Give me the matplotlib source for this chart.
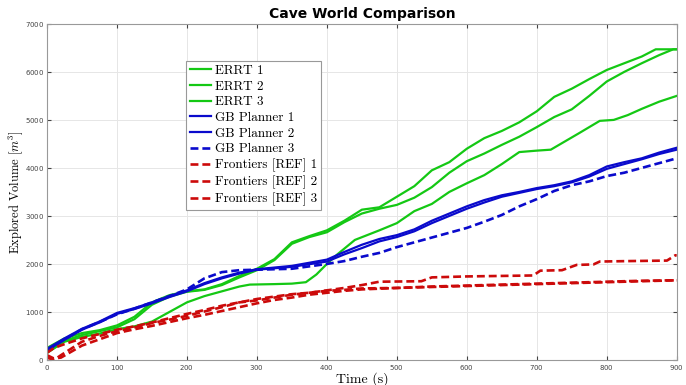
import matplotlib
matplotlib.use('Agg')
import matplotlib.pyplot as plt

plt.rcParams['mathtext.fontset'] = 'cm'
plt.rcParams['axes.formatter.use_mathtext'] = True

# ERRT runs
errt1_t = [0, 25, 50, 75, 100, 125, 150, 175, 200, 225, 250, 275, 300, 325, 350, 375, 400, 425, 450, 475,
           500, 525, 550, 575, 600, 625, 650, 675, 700, 725, 750, 775, 800, 825, 850, 870, 900]
errt1_v = [250, 450, 560, 620, 720, 900, 1200, 1350, 1430, 1470, 1580, 1750, 1900, 2100, 2450, 2580, 2700, 2900, 3130, 3180,
           3400, 3620, 3950, 4120, 4400, 4620, 4770, 4950, 5180, 5480, 5650, 5850, 6040, 6180, 6320, 6470, 6470]
errt2_t = [0, 25, 50, 75, 100, 125, 150, 175, 200, 225, 250, 275, 300, 325, 350, 375, 400, 425, 450, 475,
           500, 525, 550, 575, 600, 625, 650, 675, 700, 725, 750, 775, 800, 825, 850, 875, 895, 900]
errt2_v = [150, 400, 520, 600, 680, 850, 1150, 1320, 1420, 1460, 1560, 1720, 1870, 2080, 2420, 2560, 2660, 2870, 3050, 3150,
           3230, 3380, 3600, 3900, 4140, 4300, 4480, 4650, 4850, 5060, 5220, 5500, 5800, 6000, 6180, 6350, 6470, 6470]
errt3_t = [0, 25, 50, 75, 100, 125, 150, 175, 200, 225, 250, 275, 290, 325, 350, 370, 385, 400, 415, 440, 475,
           500, 525, 550, 575, 600, 625, 650, 675, 700, 720, 740, 760, 790, 810, 830, 850, 875, 900]
errt3_v = [150, 380, 480, 550, 640, 700, 800, 1000, 1200, 1330, 1430, 1530, 1570, 1580, 1590, 1620, 1780, 2000, 2200, 2500, 2700,
           2850, 3100, 3250, 3500, 3680, 3850, 4080, 4330, 4360, 4380, 4550, 4720, 4980, 5000, 5100, 5230, 5380, 5500]

# GB Planner runs
gb_t = [0, 25, 50, 75, 100, 125, 150, 175, 200, 225, 250, 275, 300, 350, 400, 425, 450, 475,
        500, 525, 550, 575, 600, 625, 650, 675, 700, 725, 750, 775, 800, 825, 850, 875, 900]
gb1_v = [230, 450, 650, 800, 980, 1080, 1200, 1330, 1450, 1600, 1720, 1820, 1890, 1960, 2090, 2250, 2400, 2520,
         2600, 2720, 2900, 3050, 3200, 3330, 3430, 3500, 3580, 3640, 3720, 3850, 4030, 4120, 4200, 4320, 4420]
gb2_v = [200, 420, 630, 780, 960, 1060, 1180, 1310, 1430, 1580, 1700, 1800, 1880, 1940, 2050, 2200, 2330, 2470,
         2560, 2680, 2850, 3000, 3150, 3280, 3400, 3480, 3560, 3620, 3700, 3820, 3980, 4080, 4180, 4290, 4380]
gb3_t = [0, 25, 50, 75, 100, 125, 150, 175, 200, 225, 250, 275, 300, 350, 400, 425, 450, 475,
         500, 550, 600, 625, 650, 675, 700, 725, 750, 775, 800, 825, 850, 875, 900]
gb3_v = [200, 430, 640, 790, 950, 1070, 1200, 1330, 1470, 1700, 1830, 1870, 1880, 1900, 2000, 2060, 2150, 2230,
         2350, 2550, 2750, 2880, 3020, 3200, 3350, 3520, 3640, 3720, 3830, 3900, 4000, 4100, 4200]

# Frontiers runs
fr1_t = [0, 10, 25, 50, 75, 100, 125, 150, 175, 200, 225, 250, 275, 300, 325, 350, 375, 400, 425, 450, 475,
         535, 550, 600, 695, 705, 736, 757, 781, 790, 833, 886, 898, 900]
fr1_v = [150, 250, 330, 450, 540, 630, 700, 780, 870, 960, 1040, 1130, 1200, 1270, 1320, 1370, 1400, 1450, 1500, 1560, 1630,
         1640, 1720, 1740, 1760, 1860, 1870, 1980, 1990, 2050, 2060, 2070, 2180, 2180]
fr_t = [0, 10, 20, 50, 75, 100, 125, 150, 175, 200, 225, 250, 275, 300, 325, 350, 375, 400, 425, 450, 500,
        550, 600, 650, 700, 750, 800, 850, 900]
fr2_v = [100, 30, 50, 300, 430, 560, 640, 710, 790, 870, 940, 1020, 1100, 1180, 1250, 1300, 1360, 1400, 1440, 1470, 1500,
         1520, 1540, 1560, 1580, 1600, 1620, 1640, 1660]
fr3_v = [50, 0, 100, 380, 500, 600, 680, 770, 840, 920, 1010, 1100, 1200, 1240, 1300, 1360, 1400, 1440, 1460, 1490, 1500,
         1530, 1550, 1570, 1590, 1610, 1630, 1650, 1660]

green = '#14c814'
blue = '#0a0acc'
red = '#cc0a0a'

fig = plt.figure(figsize=(6.86, 3.85), dpi=100)
ax = fig.add_axes([0.0685, 0.065, 0.918, 0.873])

ax.plot(errt1_t, errt1_v, color=green, lw=1.6, label='ERRT 1')
ax.plot(errt2_t, errt2_v, color=green, lw=1.6, label='ERRT 2')
ax.plot(errt3_t, errt3_v, color=green, lw=1.6, label='ERRT 3')
ax.plot(gb_t, gb1_v, color=blue, lw=1.6, label='GB Planner 1')
ax.plot(gb_t, gb2_v, color=blue, lw=1.6, label='GB Planner 2')
ax.plot(gb3_t, gb3_v, color=blue, lw=1.9, ls=(0, (3, 1.5)), label='GB Planner 3')
ax.plot(fr1_t, fr1_v, color=red, lw=1.9, ls=(0, (3, 1.5)), label='Frontiers [REF] 1')
ax.plot(fr_t, fr2_v, color=red, lw=1.9, ls=(0, (3, 1.5)), label='Frontiers [REF] 2')
ax.plot(fr_t, fr3_v, color=red, lw=1.9, ls=(0, (3, 1.5)), label='Frontiers [REF] 3')

ax.set_xlim(0, 900)
ax.set_ylim(0, 7000)
ax.set_xticks(range(0, 901, 100))
ax.set_yticks(range(0, 7001, 1000))
ax.grid(True, color='#e6e6e6', lw=0.7)
ax.set_axisbelow(True)
ax.tick_params(direction='in', top=True, right=True, labelsize=5, colors='#444444', length=3, pad=2)
for s in ax.spines.values():
    s.set_color('#999999')

ax.set_title('Cave World Comparison', fontsize=10, fontweight='bold', pad=4)
ax.set_xlabel('Time (s)', family='cmr10', fontsize=10, labelpad=0)
ax.set_ylabel(r'Explored Volume [$m^3$]', family='cmr10', fontsize=9, labelpad=0)

leg = ax.legend(loc='upper left', bbox_to_anchor=(0.21, 0.91), prop={'family': 'cmr10', 'size': 9.5},
                handlelength=1.6, handletextpad=0.3, labelspacing=0.26, borderpad=0.3,
                fancybox=False, edgecolor='#999999', framealpha=1)
leg.get_frame().set_linewidth(0.8)

fig.savefig('out.png', dpi=100)
